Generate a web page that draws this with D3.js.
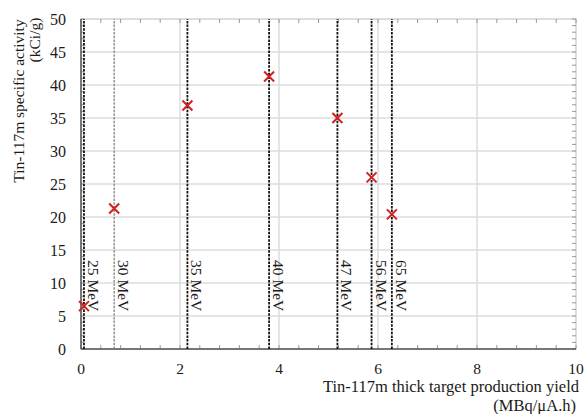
<!DOCTYPE html>
<html>
<head>
<meta charset="utf-8">
<script src="https://cdn.jsdelivr.net/npm/d3@7"></script>
<style>
body { margin: 0; background: #fff; }
text { font-family: "Liberation Serif", "Times New Roman", serif; fill: #1a1a1a; }
</style>
</head>
<body>
<div id="chart"></div>
<script>
// beam energies and the measured points
var energies = ["25 MeV", "30 MeV", "35 MeV", "40 MeV", "47 MeV", "56 MeV", "65 MeV"];
var yieldVals = [0.06, 0.67, 2.15, 3.8, 5.18, 5.87, 6.28];
var activityVals = [6.5, 21.3, 36.9, 41.3, 35.0, 26.0, 20.4];
var xTicks = [0, 2, 4, 6, 8, 10];
var yTicks = [0, 5, 10, 15, 20, 25, 30, 35, 40, 45, 50];

var width = 585, height = 414;
var margin = {top: 19, right: 9, bottom: 65, left: 81};

var svg = d3.select("#chart").append("svg")
    .attr("width", width)
    .attr("height", height);

var x = d3.scaleLinear().domain([0, 10]).range([margin.left, width - margin.right]);
var y = d3.scaleLinear().domain([0, 50]).range([height - margin.bottom, margin.top]);

//grid
svg.append("g").selectAll("line")
    .data(yTicks.slice(1, -1))
    .join("line")
    .attr("x1", x(0)).attr("x2", x(10))
    .attr("y1", d => y(d)).attr("y2", d => y(d))
    .attr("stroke", "#dcdcdc").attr("stroke-width", 1.5);

svg.append("g").selectAll("line")
    .data(xTicks.slice(1, -1))
    .join("line")
    .attr("y1", y(0)).attr("y2", y(50))
    .attr("x1", d => x(d)).attr("x2", d => x(d))
    .attr("stroke", "#dcdcdc").attr("stroke-width", 1.5);

// frame
svg.append("rect")
    .attr("x", x(0)).attr("y", y(50))
    .attr("width", x(10) - x(0)).attr("height", y(0) - y(50))
    .attr("fill", "none").attr("stroke", "#bbb").attr("stroke-width", 1);

// minor ticks (inside)
var xMinor = d3.range(0, 10.01, 0.4);
var yMinor = d3.range(0, 50.01, 1);
var ticksG = svg.append("g").attr("stroke", "#999").attr("stroke-width", 1);
ticksG.selectAll(".xb").data(xMinor).join("line")
    .attr("x1", d => x(d)).attr("x2", d => x(d))
    .attr("y1", y(0)).attr("y2", y(0) - 4);
ticksG.selectAll(".xt").data(xMinor).join("line")
    .attr("x1", d => x(d)).attr("x2", d => x(d))
    .attr("y1", y(50)).attr("y2", y(50) + 4);
ticksG.selectAll(".yr").data(yMinor).join("line")
    .attr("x1", x(10)).attr("x2", x(10) - 4)
    .attr("y1", d => y(d)).attr("y2", d => y(d));
ticksG.selectAll(".yl").data(yMinor).join("line")
    .attr("x1", x(0)).attr("x2", x(0) + 3)
    .attr("y1", d => y(d)).attr("y2", d => y(d));

// axes lines
svg.append("line")
    .attr("x1", x(0)).attr("x2", x(10)).attr("y1", y(0)).attr("y2", y(0))
    .attr("stroke", "#555").attr("stroke-width", 1.5);
svg.append("line")
    .attr("x1", x(0)).attr("x2", x(0)).attr("y1", y(0)).attr("y2", y(50))
    .attr("stroke", "#555").attr("stroke-width", 1.5);

// tick labels
svg.append("g").selectAll("text")
    .data(yTicks)
    .join("text")
    .attr("x", x(0) - 15)
    .attr("y", d => y(d) + 5.5)
    .attr("text-anchor", "end")
    .style("font-size", "16px")
    .text(d => d);

svg.append("g").selectAll("text")
    .data(xTicks)
    .join("text")
    .attr("x", d => x(d))
    .attr("y", y(0) + 24.5)
    .attr("text-anchor", "middle")
    .style("font-size", "15.5px")
    .text(d => d);

// energy lines
svg.append("g").selectAll("line")
    .data(yieldVals)
    .join("line")
    .attr("x1", d => x(d)).attr("x2", d => x(d))
    .attr("y1", y(0)).attr("y2", y(50))
    .attr("stroke", (d, i) => i == 1 ? "#777" : "#111")
    .attr("stroke-width", (d, i) => i == 1 ? 1.2 : 1.8)
    .attr("stroke-dasharray", "2.5,1.2");

svg.append("g").selectAll("text")
    .data(energies)
    .join("text")
    .attr("transform", (d, i) => "translate(" + (x(yieldVals[i]) + 4) + "," + 260 + ") rotate(90)")
    .style("font-size", "15.5px")
    .text(d => d);

// points
var pts = svg.append("g").attr("stroke", "#d21f1f").attr("stroke-width", 2);
energies.forEach(function(e, i) {
    var cx = x(yieldVals[i]), cy = y(activityVals[i]);
    pts.append("path")
        .attr("d", "M" + (cx - 5) + "," + (cy - 5) + "L" + (cx + 5) + "," + (cy + 5) +
                   "M" + (cx - 5) + "," + (cy + 5) + "L" + (cx + 5) + "," + (cy - 5));
});

// axis titles
svg.append("text")
    .attr("transform", "translate(24,101) rotate(-90)")
    .attr("text-anchor", "middle")
    .style("font-size", "15.5px")
    .text("Tin-117m specific activity");
svg.append("text")
    .attr("transform", "translate(40,40) rotate(-90)")
    .attr("text-anchor", "middle")
    .style("font-size", "15.5px")
    .text("(kCi/g)");

svg.append("text")
    .attr("x", 579).attr("y", 392)
    .attr("text-anchor", "end")
    .style("font-size", "16.5px")
    .text("Tin-117m thick target production yield");
svg.append("text")
    .attr("x", 576).attr("y", 411)
    .attr("text-anchor", "end")
    .style("font-size", "16.5px")
    .text("(MBq/μA.h)");
</script>
</body>
</html>
